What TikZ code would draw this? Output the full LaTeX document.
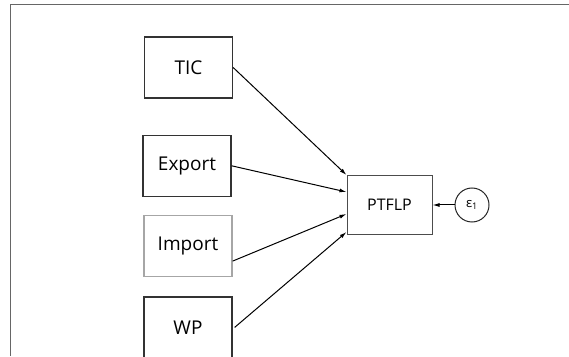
\documentclass[tikz,border=0pt]{standalone}
\usepackage{fontspec}
\setmainfont{Open Sans}
\usepackage{tikz}
\usetikzlibrary{arrows.meta,positioning,calc}

\tikzset{
  varbox/.style={draw=black!80, line width=1.3pt, minimum width=88pt, minimum height=61pt, inner sep=0pt, font=\fontsize{19}{22}\selectfont},
  path/.style={-{Latex[length=7pt,width=4pt]}, line width=1pt}
}

\begin{document}
\begin{tikzpicture}[x=1pt, y=1pt]
\useasboundingbox (0,0) rectangle (569,356);
% frame
\draw[black!60, line width=1pt] (10,0) -- (10,351) -- (569,351);
%nodes
\node[varbox] (tic) at (188.5,288.5) {TIC};
\node[varbox, below = 36pt of tic, xshift=-1.5pt] (export) {Export};
\node[varbox, below = 18pt of export, xshift=1pt, draw=black!35] (import) {Import};
\node[varbox, below = 19pt of import] (wp) {WP};
\node[draw=black!70, line width=1pt, minimum width=85pt, minimum height=58pt, inner sep=0pt, font=\fontsize{16}{19}\selectfont] (ptflp) at (389.5,151) {PTFLP};
\node[draw=black!85, line width=1pt, circle, minimum size=34pt, inner sep=0pt, right = 22pt of ptflp, font=\fontsize{13}{15}\selectfont] (eps) {ε\textsubscript{1}};
%paths
\draw[path] (tic.east) to ([yshift=30pt]ptflp.west);
\draw[path] (export.east) to ([yshift=13pt]ptflp.west);
\draw[path] ([yshift=-15pt]import.east) to ([yshift=-9pt]ptflp.west);
\draw[path] ([xshift=2pt]wp.east) to ([yshift=-27pt]ptflp.west);
\draw[path] (eps) to (ptflp);
\end{tikzpicture}
\end{document}
